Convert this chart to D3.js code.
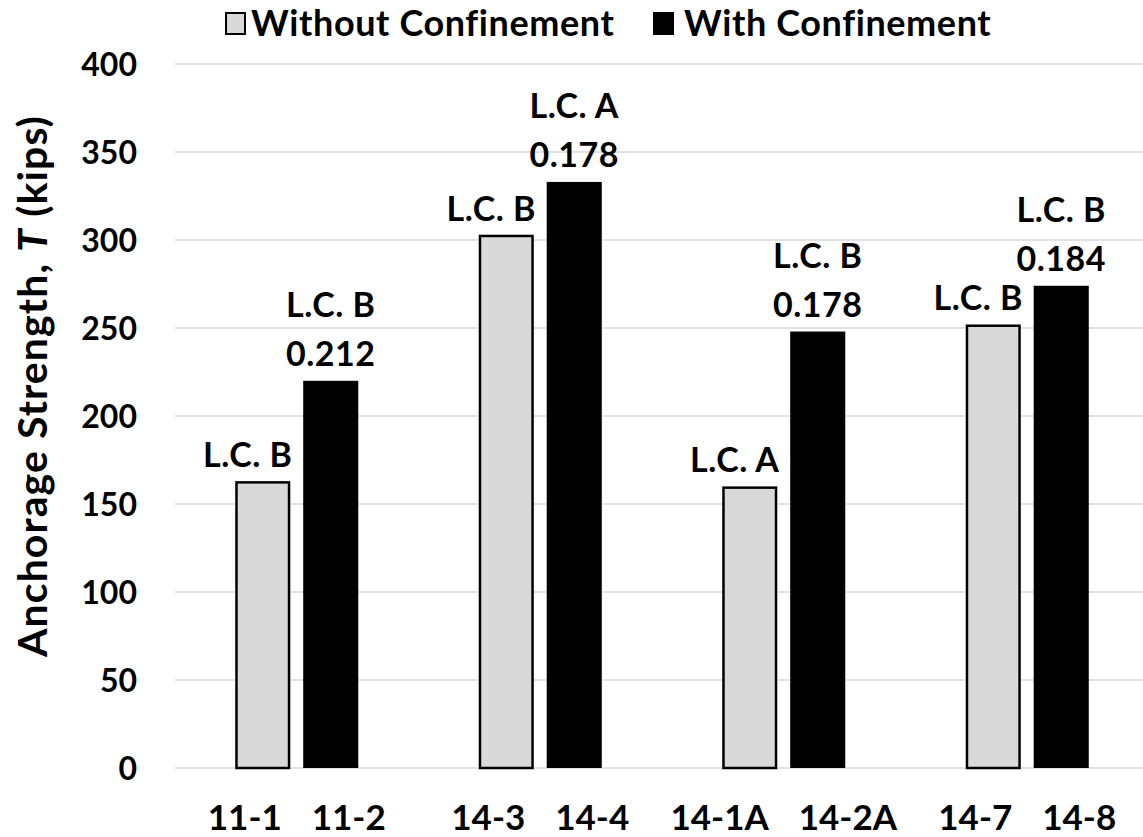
<!DOCTYPE html>
<html>
<head>
<meta charset="utf-8">
<script src="https://cdn.jsdelivr.net/npm/d3@7"></script>
<style>
  html, body { margin: 0; padding: 0; background: #fff; }
  svg { display: block; }
  text { font-family: Lato, "Open Sans", sans-serif; font-weight: 700; fill: #000; }
</style>
</head>
<body>
<svg id="chart" width="1143" height="837"></svg>
<script>
const groups = ["G1", "G2", "G3", "G4"];
const seriesNames = ["Without Confinement", "With Confinement"];
const specimensWithout = ["11-1", "14-3", "14-1A", "14-7"];
const specimensWith = ["11-2", "14-4", "14-2A", "14-8"];
const valuesWithout = [163, 303, 160, 252];
const valuesWith = [220, 333, 248, 274];
const lcWithout = ["L.C. B", "L.C. B", "L.C. A", "L.C. B"];
const lcWith = ["L.C. B", "L.C. A", "L.C. B", "L.C. B"];
const ratioWith = ["0.212", "0.178", "0.178", "0.184"];
const yTicks = [0, 50, 100, 150, 200, 250, 300, 350, 400];

const svg = d3.select("#chart");
const plotLeft = 175, plotRight = 1149, plotTop = 64, plotBottom = 768;

const y = d3.scaleLinear().domain([0, 400]).range([plotBottom, plotTop]);
const x0 = d3.scaleBand().domain(groups).range([plotLeft, plotRight]).padding(0);
const x1 = d3.scaleBand().domain(["without", "with"]).range([0, x0.bandwidth()])
  .paddingInner(0.19).paddingOuter(0.886);
const colors = { without: "#d9d9d9", with: "#000000" };

// gridlines
svg.append("g").selectAll("line").data(yTicks).join("line")
  .attr("x1", plotLeft).attr("x2", 1143)
  .attr("y1", d => y(d)).attr("y2", d => y(d))
  .attr("stroke", "#d9d9d9").attr("stroke-width", 1.5);

// y tick labels
svg.append("g").selectAll("text").data(yTicks).join("text")
  .attr("x", 137).attr("y", d => y(d)).attr("dy", "0.36em")
  .attr("text-anchor", "end").attr("font-size", 32)
  .text(d => d);

// bars
const data = groups.map((g, i) => ({
  g, i,
  bars: [
    { key: "without", v: valuesWithout[i], name: specimensWithout[i] },
    { key: "with", v: valuesWith[i], name: specimensWith[i] }
  ]
}));

const gg = svg.append("g").selectAll("g").data(data).join("g")
  .attr("transform", d => `translate(${x0(d.g)},0)`);

gg.selectAll("rect").data(d => d.bars).join("rect")
  .attr("x", d => x1(d.key) + (d.key === "without" ? 1.25 : 0))
  .attr("width", d => x1.bandwidth() - (d.key === "without" ? 2.5 : 0))
  .attr("y", d => y(d.v) + (d.key === "without" ? 1.25 : 0))
  .attr("height", d => y(0) - y(d.v) - (d.key === "without" ? 1.25 : 0))
  .attr("fill", d => colors[d.key])
  .attr("stroke", d => d.key === "without" ? "#000" : "none")
  .attr("stroke-width", 2.5);

// data labels
const lblSize = 34, lblSpacing = 0.5;
gg.append("text")
  .attr("x", d => x1("without") + x1.bandwidth() / 2 - 15)
  .attr("y", d => y(valuesWithout[d.i]) - 14)
  .attr("text-anchor", "middle").attr("font-size", lblSize).attr("letter-spacing", lblSpacing)
  .text(d => lcWithout[d.i]);

gg.append("text")
  .attr("x", d => x1("with") + x1.bandwidth() / 2)
  .attr("y", d => y(valuesWith[d.i]) - 15)
  .attr("text-anchor", "middle").attr("font-size", lblSize).attr("letter-spacing", lblSpacing)
  .text(d => ratioWith[d.i]);

gg.append("text")
  .attr("x", d => x1("with") + x1.bandwidth() / 2)
  .attr("y", d => y(valuesWith[d.i]) - 64)
  .attr("text-anchor", "middle").attr("font-size", lblSize).attr("letter-spacing", lblSpacing)
  .text(d => lcWith[d.i]);

// x category labels
gg.append("text")
  .attr("x", x0.bandwidth() / 2 - 15).attr("y", 830)
  .attr("text-anchor", "end").attr("font-size", 35)
  .text(d => specimensWithout[d.i]);
gg.append("text")
  .attr("x", x0.bandwidth() / 2 + 15).attr("y", 830)
  .attr("text-anchor", "start").attr("font-size", 35)
  .text(d => specimensWith[d.i]);

// y axis title
const yt = svg.append("text")
  .attr("transform", `translate(47,386) rotate(-90)`)
  .attr("text-anchor", "middle").attr("font-size", 41).attr("letter-spacing", 1.1);
yt.append("tspan").text("Anchorage Strength, ");
yt.append("tspan").attr("font-style", "italic").text("T");
yt.append("tspan").text(" (kips)");

// legend
const legend = svg.append("g");
const legendItems = [
  { name: seriesNames[0], key: "without", bx: 225, tx: 251 },
  { name: seriesNames[1], key: "with", bx: 653, tx: 684 }
];
legend.selectAll("rect").data(legendItems).join("rect")
  .attr("x", d => d.bx + 1).attr("y", 13).attr("width", 19).attr("height", 21)
  .attr("fill", d => colors[d.key])
  .attr("stroke", "#000").attr("stroke-width", 2);
legend.selectAll("text").data(legendItems).join("text")
  .attr("x", d => d.tx).attr("y", 36).attr("font-size", 36).attr("letter-spacing", 0.6)
  .text(d => d.name);
</script>
</body>
</html>
